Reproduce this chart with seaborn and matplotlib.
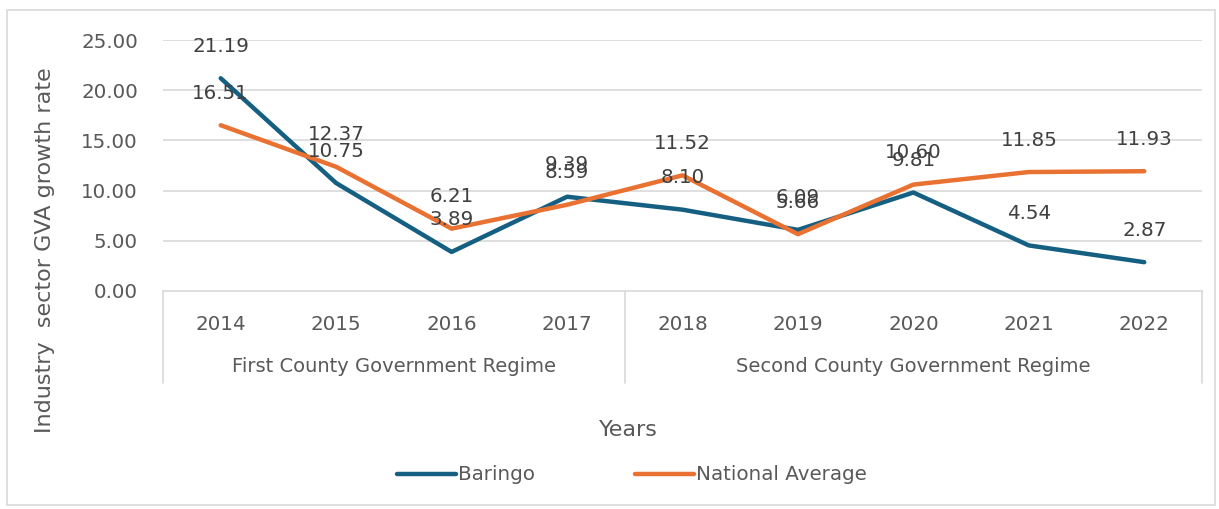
import matplotlib
matplotlib.use("Agg")
import matplotlib.pyplot as plt
import seaborn as sns
import pandas as pd
from matplotlib.lines import Line2D

years = ["2014", "2015", "2016", "2017", "2018", "2019", "2020", "2021", "2022"]
baringo = [21.19, 10.75, 3.89, 9.39, 8.10, 6.09, 9.81, 4.54, 2.87]
national = [16.51, 12.37, 6.21, 8.59, 11.52, 5.66, 10.60, 11.85, 11.93]
regimes = ["First County Government Regime", "Second County Government Regime"]
regime_sizes = [4, 5]
series_names = ["Baringo", "National Average"]
colors = ["#156082", "#E97132"]

sns.set_theme(style="white")
plt.rcParams["font.family"] = ["DejaVu Sans"]
txt = "#595959"

df = pd.DataFrame({
    "x": list(range(len(years))) * 2,
    "value": baringo + national,
    "series": [series_names[0]] * len(years) + [series_names[1]] * len(years),
})

W, H = 1219, 509
fig = plt.figure(figsize=(W / 100, H / 100), dpi=100)
L, R, T, B = 163, 1202, 40, 291
ax = fig.add_axes([L / W, 1 - B / H, (R - L) / W, (B - T) / H])

sns.lineplot(data=df, x="x", y="value", hue="series", palette=colors,
             linewidth=3.2, ax=ax, legend=False, solid_capstyle="round",
             solid_joinstyle="round", zorder=3)

ax.set_xlim(-0.5, len(years) - 0.5)
ax.set_ylim(0, 25)
ax.set_yticks([0, 5, 10, 15, 20, 25])
ax.set_yticklabels([f"{v:.2f}" for v in [0, 5, 10, 15, 20, 25]], color=txt, fontsize=14.3)
ax.set_xticks(range(len(years)))
ax.set_xticklabels(years, color=txt, fontsize=14.3)
ax.tick_params(axis="x", length=0, pad=17)
ax.tick_params(axis="y", length=0, pad=18)
for yv in [5, 10, 15, 20, 25]:
    ax.axhline(yv, color="#D9D9D9", lw=1.2, zorder=1)
for s in ["top", "right", "left"]:
    ax.spines[s].set_visible(False)
ax.spines["bottom"].set_color("#D9D9D9")
ax.spines["bottom"].set_linewidth(1.2)
ax.set_xlabel("")
ax.set_ylabel("")

# data labels
for vals in [baringo, national]:
    for i, v in enumerate(vals):
        ax.annotate(f"{v:.2f}", (i, v), xytext=(0, 23), textcoords="offset points",
                    ha="center", va="center", fontsize=14.3, color="#404040", zorder=4)

# group axis lines and labels
trans = ax.get_xaxis_transform()
bottom_frac = -(383 - B) / (B - T)
bounds = [-0.5]
for n in regime_sizes:
    bounds.append(bounds[-1] + n)
for bx in bounds:
    ax.add_line(Line2D([bx, bx], [0, bottom_frac], transform=trans, color="#D9D9D9",
                       lw=1.2, clip_on=False))
label_frac = -(367 - B) / (B - T)
for k, name in enumerate(regimes):
    cx = (bounds[k] + bounds[k + 1]) / 2
    ax.text(cx, label_frac, name, transform=trans, ha="center", va="center",
            fontsize=14, color=txt)

fig.text(628 / W, 1 - 430 / H, "Years", ha="center", va="center", fontsize=16, color=txt)
fig.text(45 / W, 1 - 250 / H, "Industry  sector GVA growth rate", ha="center", va="center",
         rotation=90, fontsize=16, color=txt)

handles = [Line2D([0], [0], color=c, lw=3.2, solid_capstyle="round") for c in colors]
leg = fig.legend(handles, series_names, loc="center", bbox_to_anchor=(632 / W, 1 - 475 / H),
                 ncol=2, frameon=False, fontsize=14.3, handlelength=3.0, handletextpad=0.1,
                 columnspacing=5.0)
for t in leg.get_texts():
    t.set_color(txt)

# outer border
fig.add_artist(plt.Rectangle((7 / W, 1 - 505 / H), (1215 - 7) / W, (505 - 10) / H,
                             transform=fig.transFigure, fill=False, ec="#D9D9D9", lw=1.2))

fig.savefig("out.png", dpi=100)
